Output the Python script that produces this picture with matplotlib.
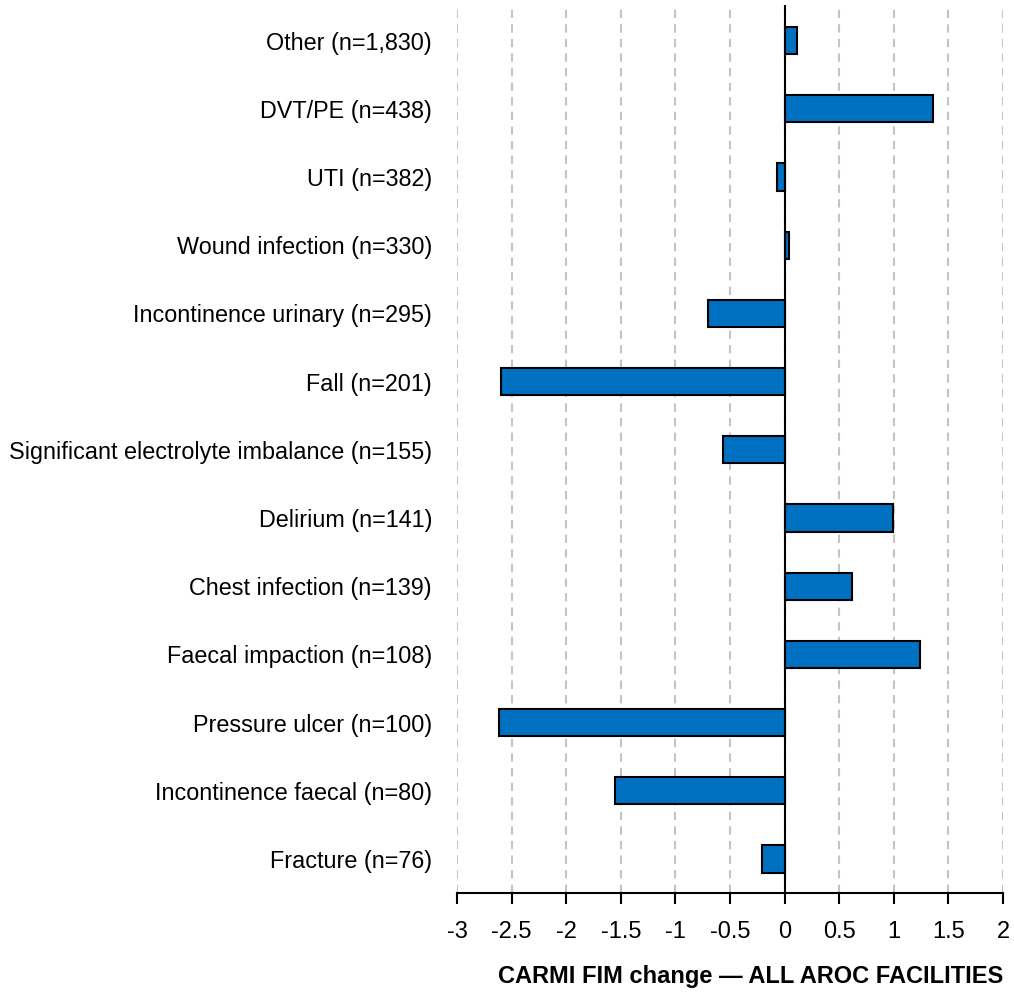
import numpy as np
from matplotlib import pyplot as plt

complications = ['Other', 'DVT/PE', 'UTI', 'Wound infection',
                 'Incontinence urinary', 'Fall',
                 'Significant electrolyte imbalance', 'Delirium',
                 'Chest infection', 'Faecal impaction', 'Pressure ulcer',
                 'Incontinence faecal', 'Fracture']
counts = ['1,830', '438', '382', '330', '295', '201', '155', '141', '139',
          '108', '100', '80', '76']
fim_change = [0.11, 1.36, -0.07, 0.04, -0.70, -2.60, -0.56, 0.99, 0.62,
              1.24, -2.62, -1.55, -0.21]

plt.rcParams['font.family'] = ['Liberation Sans', 'DejaVu Sans']

fig = plt.figure(figsize=(10.14, 9.92), dpi=100)
ax = fig.add_axes([0.4507, 0.0998, 0.5385, 0.895])

ypos = np.arange(len(complications))
labels = ['%s (n=%s)' % (c, n) for c, n in zip(complications, counts)]

ax.barh(ypos, fim_change, height=0.4, color='#0070C0',
        edgecolor='black', linewidth=1.5, zorder=3)
ax.axvline(0, color='black', linewidth=1.5, zorder=4)

ax.set_xlim(-3, 2)
ax.set_ylim(len(complications) - 0.5, -0.52)
xt = np.arange(-3, 2.01, 0.5)
ax.set_xticks(xt)
ax.set_xticklabels(['%g' % v for v in xt], fontsize=17)
ax.set_yticks(ypos)
ax.set_yticklabels(labels, fontsize=16.8)
ax.tick_params(axis='y', length=0, pad=18)
ax.tick_params(axis='x', direction='out', length=8, width=1.5, pad=12)

ax.grid(axis='x', color='#c4c4c4', linestyle=(0, (4, 3)), linewidth=1.5,
        zorder=0)
for s in ['left', 'right', 'top']:
    ax.spines[s].set_visible(False)
ax.spines['bottom'].set_linewidth(1.5)

ax.set_xlabel('CARMI FIM change \u2014 ALL AROC FACILITIES', fontsize=17,
              fontweight='bold', loc='right', labelpad=16)

plt.savefig('out.png', dpi=100)
